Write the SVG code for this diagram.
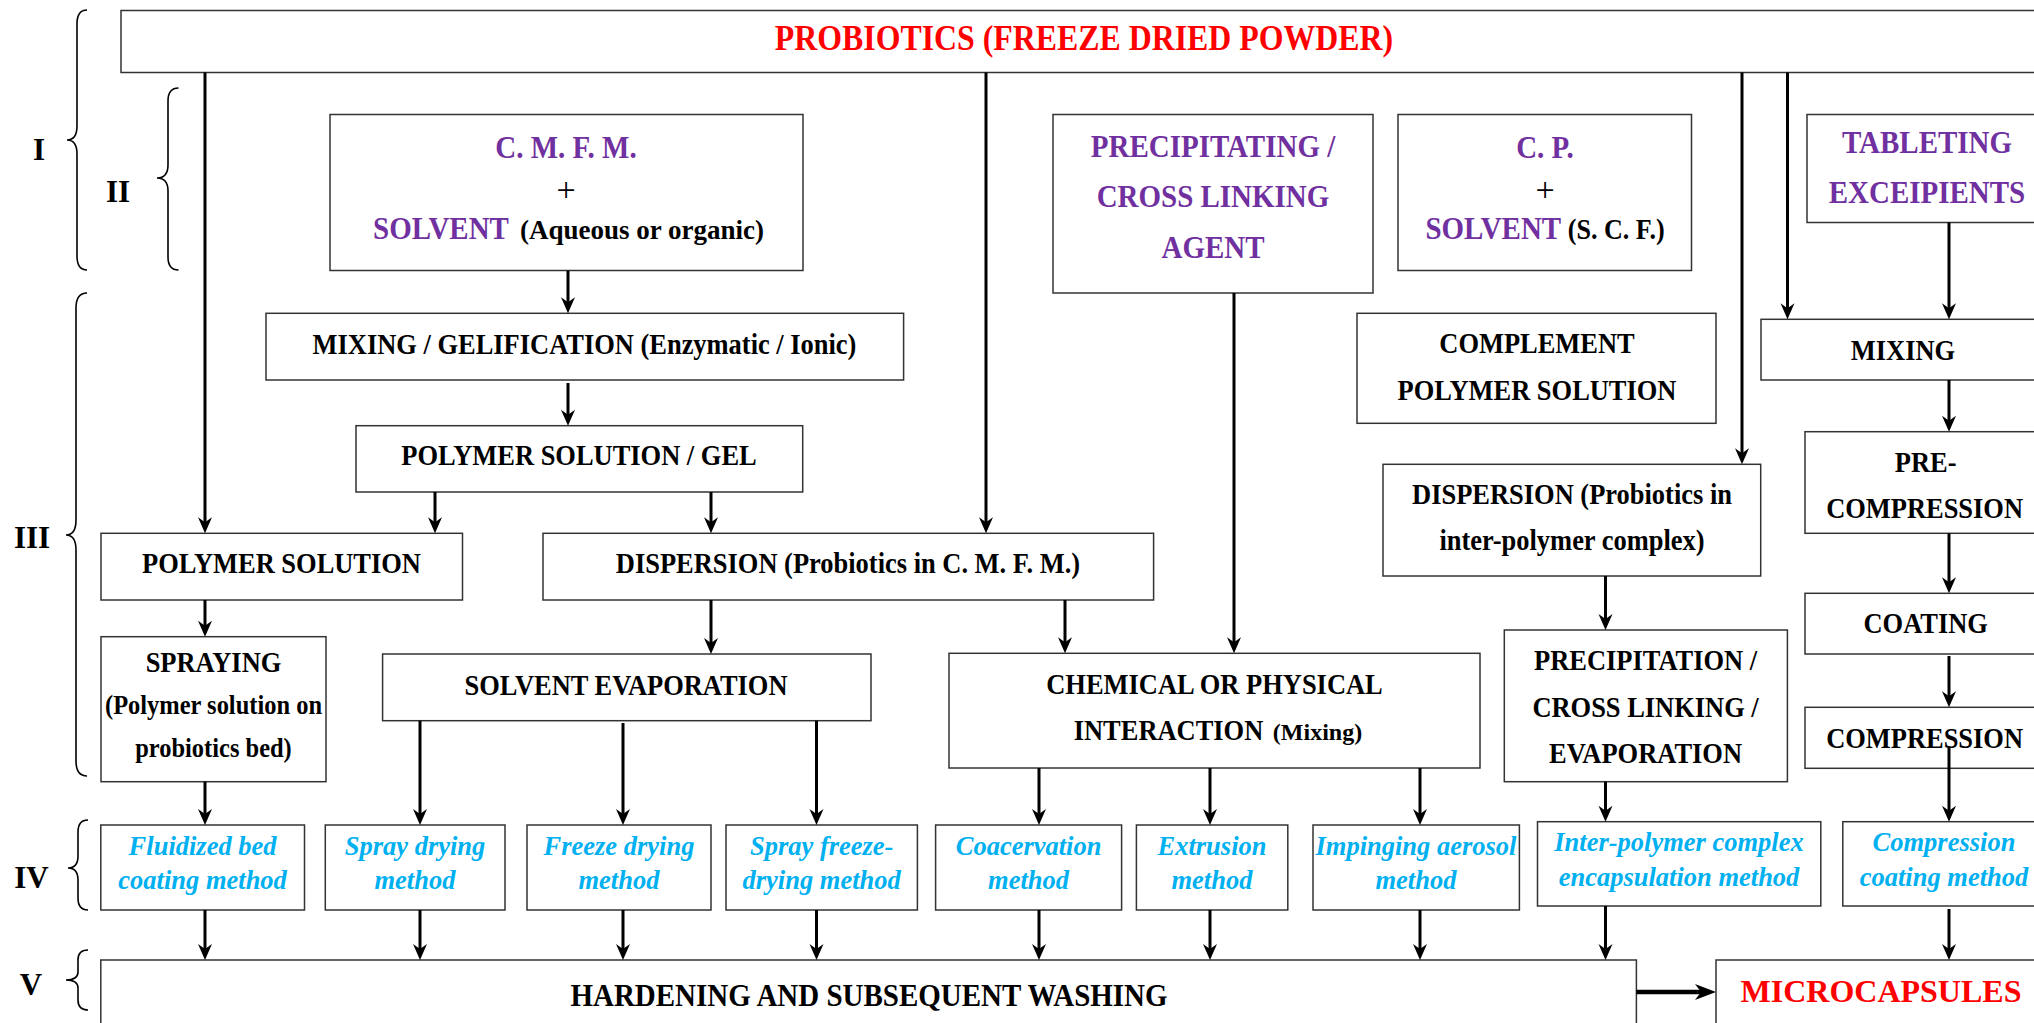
<svg xmlns="http://www.w3.org/2000/svg" width="2034" height="1023" viewBox="0 0 2034 1023">
<style>
.box{fill:#fff;stroke:#333;stroke-width:1.5}
.t{font-family:"Liberation Serif","Times New Roman",serif;font-weight:bold;text-anchor:middle}
.sq{transform-box:fill-box;transform-origin:center;transform:scaleX(0.9)}
.bk{fill:#000;font-size:29.4px}
.bs{fill:#000;font-size:27px}
.pu{fill:#7030A0;font-size:32.2px}
.cy{fill:#00B0F0;font-size:26.5px;font-style:italic}
.rd{fill:#FF0000;font-size:32px}
.ttl{fill:#FF0000;font-size:35.4px}
.plus{fill:#000;font-size:34px;font-weight:normal}
.num{fill:#000;font-size:31px}
.conn{stroke:#000;stroke-width:3;fill:none;marker-end:url(#ah)}
.thick{stroke:#000;stroke-width:4.5;fill:none;marker-end:url(#ah2)}
.brace{stroke:#000;stroke-width:1.6;fill:none}
</style>
<defs>
<marker id="ah" viewBox="-10 -10 20 20" refX="0" refY="0" markerWidth="20" markerHeight="20" markerUnits="userSpaceOnUse" orient="auto">
<path d="M8,0 L-8,-7 L-3,0 L-8,7 Z" fill="#000"/>
</marker>
<marker id="ah2" viewBox="-14 -12 28 24" refX="0" refY="0" markerWidth="28" markerHeight="24" markerUnits="userSpaceOnUse" orient="auto">
<path d="M9,0 L-12,-8 L-6,0 L-12,8 Z" fill="#000"/>
</marker>
</defs>

<g id="braces">
<path class="brace" d="M87,10 Q77,10 77,24 L77,126 Q77,140 67,140 Q77,140 77,154 L77,256 Q77,270 87,270"/>
<path class="brace" d="M178.5,88 Q168,88 168,101 L168,165 Q168,178 157,178 Q168,178 168,191 L168,257 Q168,270 178.5,270"/>
<path class="brace" d="M87,293 Q76,293 76,308 L76,520 Q76,535 66,535 Q76,535 76,550 L76,761 Q76,776 87,776"/>
<path class="brace" d="M88,820 Q78,820 78,832 L78,856 Q78,868 68,868 Q78,868 78,880 L78,898 Q78,910 88,910"/>
<path class="brace" d="M88,950 Q78,950 78,960 L78,972 Q78,980 66,980 Q78,980 78,988 L78,1000 Q78,1010 88,1010"/>
<text class="t num" x="39" y="160">I</text>
<text class="t num" x="118" y="202">II</text>
<text class="t num" x="32" y="548">III</text>
<text class="t num" x="31.5" y="888">IV</text>
<text class="t num" x="31" y="995">V</text>
</g>

<g id="n-probiotics"><rect class="box" x="121" y="10.5" width="1925" height="62"/>
<text class="t ttl sq" x="1084" y="50">PROBIOTICS (FREEZE DRIED POWDER)</text></g>

<g id="n-cmfm"><rect class="box" x="330" y="114.5" width="473" height="156"/>
<text class="t pu sq" x="566" y="158">C. M. F. M.</text>
<text class="t plus" x="566" y="201">+</text>
<text class="t pu sq" x="441" y="239">SOLVENT</text>
<text class="t bs" x="642" y="239">(Aqueous or organic)</text></g>

<g id="n-precip-agent"><rect class="box" x="1053" y="114.5" width="320" height="178.5"/>
<text class="t pu sq" x="1213" y="157">PRECIPITATING /</text>
<text class="t pu sq" x="1213" y="207">CROSS LINKING</text>
<text class="t pu sq" x="1213" y="258">AGENT</text></g>

<g id="n-cp"><rect class="box" x="1398" y="114.5" width="293.5" height="156"/>
<text class="t pu sq" x="1545" y="158">C. P.</text>
<text class="t plus" x="1545" y="201">+</text>
<text class="t pu sq" x="1545" y="239">SOLVENT<tspan class="bk" style="font-size:29px"> (S. C. F.)</tspan></text></g>

<g id="n-tableting"><rect class="box" x="1807" y="114.5" width="240" height="108"/>
<text class="t pu sq" x="1927" y="152.7">TABLETING</text>
<text class="t pu sq" x="1927" y="202.7">EXCEIPIENTS</text></g>

<g id="n-mixgel"><rect class="box" x="266" y="313.3" width="637.6" height="66.7"/>
<text class="t bk sq" x="584.5" y="354">MIXING / GELIFICATION (Enzymatic / Ionic)</text></g>

<g id="n-complement"><rect class="box" x="1357" y="313.3" width="359" height="110"/>
<text class="t bk sq" x="1537" y="353.3">COMPLEMENT</text>
<text class="t bk sq" x="1537" y="400">POLYMER SOLUTION</text></g>

<g id="n-mixing"><rect class="box" x="1761" y="319.3" width="285" height="60.7"/>
<text class="t bk sq" x="1903" y="360">MIXING</text></g>

<g id="n-polygel"><rect class="box" x="356" y="425.7" width="446.7" height="66.3"/>
<text class="t bk sq" x="579" y="465">POLYMER SOLUTION / GEL</text></g>

<g id="n-disp-ipc"><rect class="box" x="1383" y="464.3" width="377.7" height="111.7"/>
<text class="t bk sq" x="1572" y="504">DISPERSION (Probiotics in</text>
<text class="t bk sq" x="1572" y="550">inter-polymer complex)</text></g>

<g id="n-precompression"><rect class="box" x="1805" y="431.7" width="241" height="101.6"/>
<text class="t bk sq" x="1925.7" y="471.7">PRE-</text>
<text class="t bk sq" x="1924.6" y="518.3">COMPRESSION</text></g>

<g id="n-polysol"><rect class="box" x="101" y="533.3" width="361.5" height="66.7"/>
<text class="t bk sq" x="281.5" y="573.3">POLYMER SOLUTION</text></g>

<g id="n-disp-cmfm"><rect class="box" x="543" y="533.3" width="610.6" height="66.7"/>
<text class="t bk sq" x="848" y="573">DISPERSION (Probiotics in C. M. F. M.)</text></g>

<g id="n-coating"><rect class="box" x="1805" y="593.3" width="241" height="60.7"/>
<text class="t bk sq" x="1925.7" y="633.3">COATING</text></g>

<g id="n-spraying"><rect class="box" x="101" y="636.7" width="225" height="145"/>
<text class="t bk sq" x="213.5" y="672.5">SPRAYING</text>
<text class="t bk sq" x="213.5" y="714.5" style="font-size:27.2px">(Polymer solution on</text>
<text class="t bk sq" x="213.5" y="756.7" style="font-size:27.2px">probiotics bed)</text></g>

<g id="n-solvevap"><rect class="box" x="382.6" y="654" width="488.4" height="66.7"/>
<text class="t bk sq" x="626" y="695">SOLVENT EVAPORATION</text></g>

<g id="n-chem"><rect class="box" x="949" y="653.3" width="531" height="114.7"/>
<text class="t bk sq" x="1214.5" y="694">CHEMICAL OR PHYSICAL</text>
<text class="t bk sq" x="1168.5" y="740">INTERACTION</text>
<text class="t bk" x="1317.5" y="740" style="font-size:24px">(Mixing)</text></g>

<g id="n-precip"><rect class="box" x="1504.3" y="630" width="283.1" height="151.7"/>
<text class="t bk sq" x="1645.5" y="670">PRECIPITATION /</text>
<text class="t bk sq" x="1645.5" y="716.7">CROSS LINKING /</text>
<text class="t bk sq" x="1645.5" y="762.7">EVAPORATION</text></g>

<g id="n-compression"><rect class="box" x="1805" y="707.3" width="241" height="61"/>
<text class="t bk sq" x="1924.6" y="748.3">COMPRESSION</text></g>

<g id="n-fluid"><rect class="box" x="100.8" y="825" width="203.7" height="85"/>
<text class="t cy" x="202.6" y="855">Fluidized bed</text>
<text class="t cy" x="202.6" y="889">coating method</text></g>

<g id="n-spraydry"><rect class="box" x="325.3" y="825" width="179.7" height="85"/>
<text class="t cy" x="415" y="855">Spray drying</text>
<text class="t cy" x="415" y="889">method</text></g>

<g id="n-freezedry"><rect class="box" x="527" y="825" width="184" height="85"/>
<text class="t cy" x="619" y="855">Freeze drying</text>
<text class="t cy" x="619" y="889">method</text></g>

<g id="n-sprayfreeze"><rect class="box" x="726" y="825" width="191.4" height="85"/>
<text class="t cy" x="821.7" y="855">Spray freeze-</text>
<text class="t cy" x="821.7" y="889">drying method</text></g>

<g id="n-coacerv"><rect class="box" x="935.6" y="825" width="186" height="85"/>
<text class="t cy" x="1028.6" y="855">Coacervation</text>
<text class="t cy" x="1028.6" y="889">method</text></g>

<g id="n-extrusion"><rect class="box" x="1136.4" y="825" width="151.4" height="85"/>
<text class="t cy" x="1212" y="855">Extrusion</text>
<text class="t cy" x="1212" y="889">method</text></g>

<g id="n-imping"><rect class="box" x="1313" y="825" width="206.4" height="85"/>
<text class="t cy" x="1416" y="855">Impinging aerosol</text>
<text class="t cy" x="1416" y="889">method</text></g>

<g id="n-interpoly"><rect class="box" x="1537.5" y="821.7" width="283.3" height="84.3"/>
<text class="t cy" x="1679" y="850.7">Inter-polymer complex</text>
<text class="t cy" x="1679" y="886">encapsulation method</text></g>

<g id="n-compcoat"><rect class="box" x="1842.8" y="821.7" width="203" height="84.3"/>
<text class="t cy" x="1944" y="850.7">Compression</text>
<text class="t cy" x="1944" y="886">coating method</text></g>

<g id="n-hardening"><rect class="box" x="100.8" y="960" width="1535.6" height="70"/>
<text class="t bk sq" x="869" y="1006" style="font-size:32.2px">HARDENING AND SUBSEQUENT WASHING</text></g>

<g id="n-micro"><rect class="box" x="1716" y="960" width="330" height="70"/>
<text class="t rd" x="1881" y="1001.7">MICROCAPSULES</text></g>

<g id="connectors">
<path class="conn" d="M205,72.5 V525.3"/>
<path class="conn" d="M568,270.5 V305.3"/>
<path class="conn" d="M568,383 V417.7"/>
<path class="conn" d="M435,492 V525.3"/>
<path class="conn" d="M711,492 V525.3"/>
<path class="conn" d="M986,72.5 V525.3"/>
<path class="conn" d="M205,600 V628.7"/>
<path class="conn" d="M711,600 V646"/>
<path class="conn" d="M1065,600 V645.3"/>
<path class="conn" d="M1234,293 V645.3"/>
<path class="conn" d="M1742,72.5 V456.3"/>
<path class="conn" d="M1787.5,72.5 V311.3"/>
<path class="conn" d="M1949,222.5 V311.3"/>
<path class="conn" d="M1949,380 V423.7"/>
<path class="conn" d="M1949,533.3 V585.3"/>
<path class="conn" d="M1949,656 V699.3"/>
<path class="conn" d="M1605.5,576 V622"/>
<path class="conn" d="M205,781.7 V817"/>
<path class="conn" d="M420,720.7 V817"/>
<path class="conn" d="M623,723 V817"/>
<path class="conn" d="M816.5,720.7 V817"/>
<path class="conn" d="M1039,768 V817"/>
<path class="conn" d="M1210,768 V817"/>
<path class="conn" d="M1420,768 V817"/>
<path class="conn" d="M1605.5,781.7 V813.7"/>
<path class="conn" d="M1949,746.7 V813.7"/>
<path class="conn" d="M205,910 V952"/>
<path class="conn" d="M420,910 V952"/>
<path class="conn" d="M623,910 V952"/>
<path class="conn" d="M816.5,910 V952"/>
<path class="conn" d="M1039,910 V952"/>
<path class="conn" d="M1210,910 V952"/>
<path class="conn" d="M1420,910 V952"/>
<path class="conn" d="M1605.5,906 V952"/>
<path class="conn" d="M1949,909 V952"/>
<path class="thick" d="M1636.4,992 H1707"/>
</g>
</svg>
